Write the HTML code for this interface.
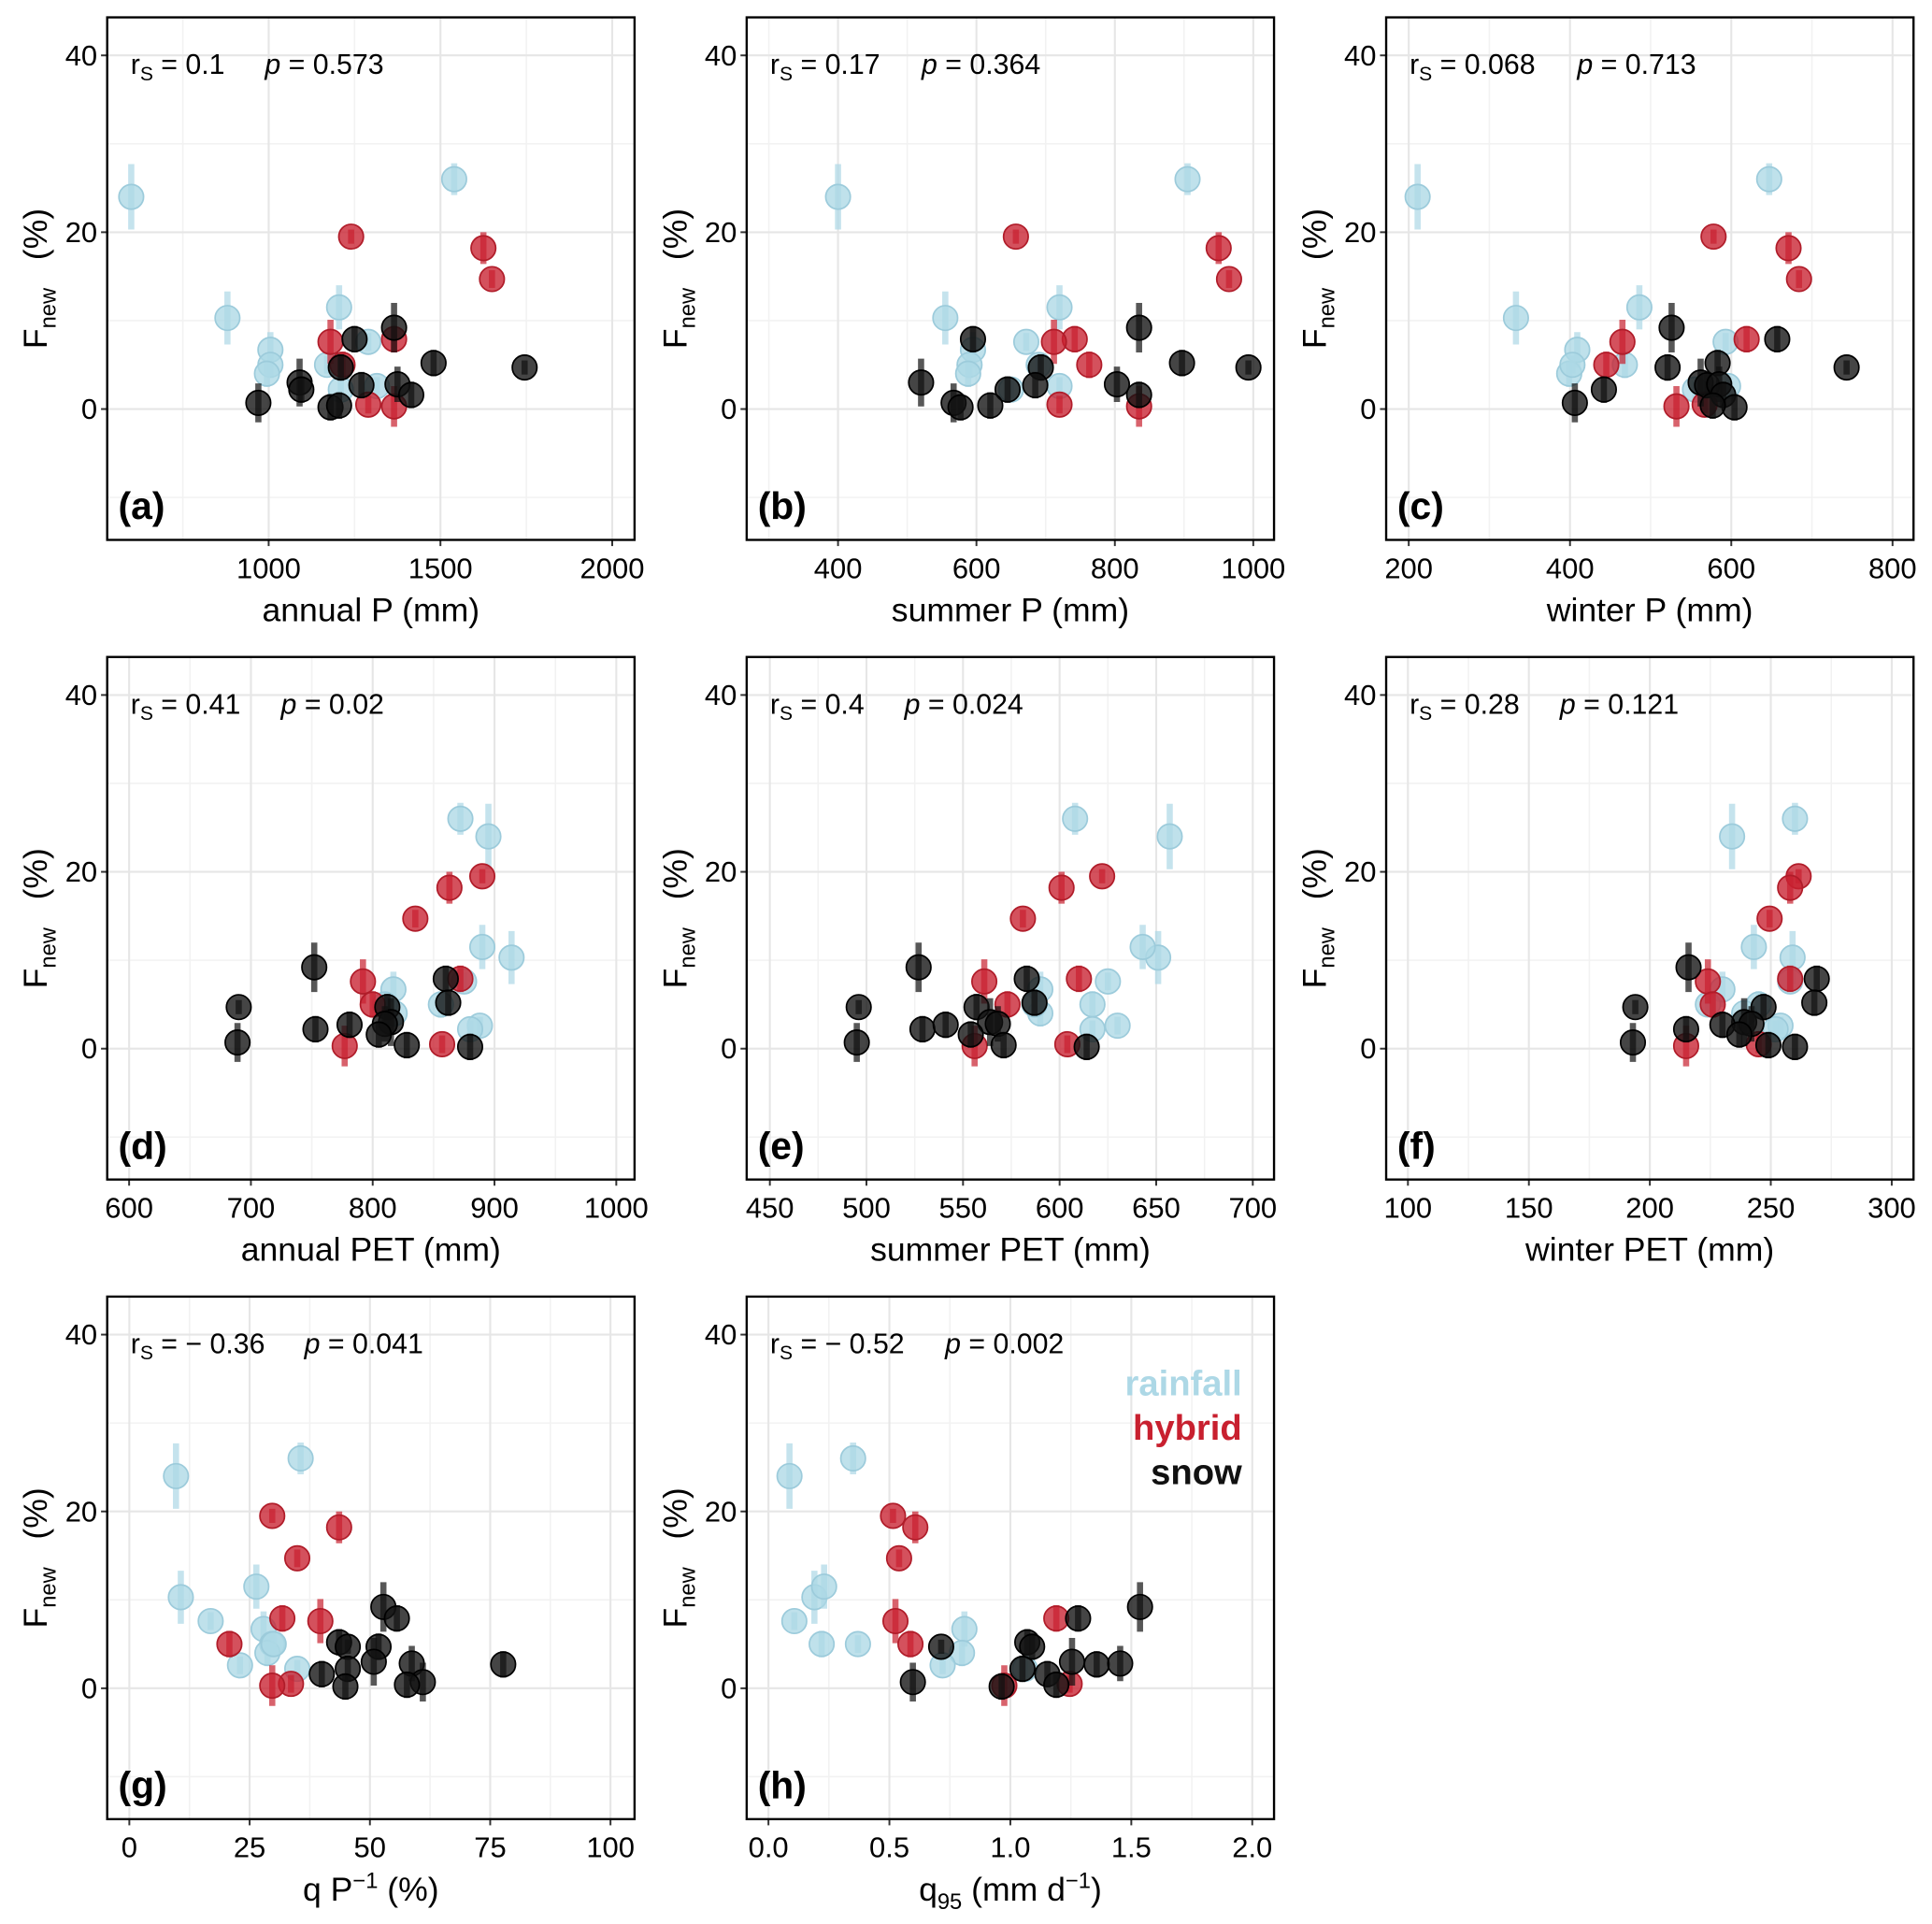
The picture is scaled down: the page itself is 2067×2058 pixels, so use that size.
<!DOCTYPE html>
<html><head><meta charset="utf-8"><style>
html,body{margin:0;padding:0;background:#fff}
svg{display:block}
text{font-family:"Liberation Sans",Arial,sans-serif;fill:#000}
</style></head><body>
<svg id="fig" width="2067" height="2058" viewBox="0 0 1568 1561" xmlns="http://www.w3.org/2000/svg"></svg>
<script>
const rainY=[24,26,10.3,11.5,6.7,5,4,5,7.6,2.6,2.2];
const rainE=[3.7,1.8,3,2.5,2,1.5,1.5,1,1,1,1];
const hybY=[19.5,18.2,14.7,7.9,7.6,5,0.5,0.3];
const hybE=[0.8,1.8,1,1.5,2.5,1.5,1,2.3];
const snowY=[9.2,7.9,5.2,4.7,4.7,3,2.2,2.7,2.8,1.6,0.7,0.2,0.4];
const snowE=[2.8,1.5,1.5,0.8,1.5,2.7,1.5,1.5,2,1.5,2.2,1.5,1.5];

const aRain=[600,1540,880,1205,1005,1005,995,1170,1290,1315,1210];
const aHyb=[1240,1625,1650,1365,1180,1215,1290,1365];
const aSnow=[1365,1250,1480,1745,1210,1090,1095,1270,1375,1415,970,1180,1205];
const bRain=[400,905,555,720,595,590,588,690,672,720,650];
const bHyb=[657,950,965,742,712,763,720,835];
const bSnow=[835,595,897,993,693,520,645,685,803,835,567,577,620];
const cRain=[211,647,333,486,409,468,399,403,593,596,555];
const cHyb=[578,671,684,619,465,445,567,532];
const cSnow=[526,657,583,743,521,562,442,570,585,590,406,604,577];
const dRain=[895,872,914,890,817,856,818,810,875,888,880];
const dHyb=[890,863,835,872,792,800,857,777];
const dSnow=[752,860,862,690,812,815,753,781,810,805,689,880,828];
const eRain=[657,608,651,643,590,617,590,587,625,630,617];
const eHyb=[622,601,581,610,561,573,604,556];
const eSnow=[527,583,587,496,557,564,529,541,568,554,495,614,571];
const fRain=[234,260,259,243,230,245,239,224,258,254,252];
const fHyb=[261.5,258,249.5,258,224,226,245,215];
const fSnow=[216,269,268,194,247,239,215,230,242,237,193,260,249];
const gRain=[9.7,35.6,10.7,26.4,27.9,29.7,28.7,30,16.9,23,34.9];
const gHyb=[29.7,43.6,34.9,31.8,39.7,20.8,33.6,29.7];
const gSnow=[52.8,55.6,43.6,45.4,51.8,50.8,45.4,77.7,58.7,40,61,44.9,57.7];
const hRain=[0.087,0.35,0.19,0.23,0.81,0.22,0.8,0.37,0.107,0.72,1.06];
const hHyb=[0.515,0.607,0.54,1.19,0.525,0.587,1.245,0.975];
const hSnow=[1.536,1.28,1.07,0.714,1.09,1.255,1.05,1.357,1.454,1.153,0.597,0.964,1.19];

const yTicks=[0,20,40];
const yMinor=[-10,10,30];
const panelLetters=['(a)','(b)','(c)','(d)','(e)','(f)','(g)','(h)'];
const rsVals=['0.1','0.17','0.068','0.41','0.4','0.28','\u2212 0.36','\u2212 0.52'];
const pVals=['0.573','0.364','0.713','0.02','0.024','0.121','0.041','0.002'];
const pOffsets=[128,142,155,141,128,141,160,161];
const xTicksList=[[1000,1500,2000],[400,600,800,1000],[200,400,600,800],[600,700,800,900,1000],[450,500,550,600,650,700],[100,150,200,250,300],[0,25,50,75,100],[0.0,0.5,1.0,1.5,2.0]];
const xLimits=[[530,2065],[268,1030],[172,826],[582,1015],[438,711],[91,309],[-4.6,105],[-0.09,2.09]];

const panels=[
 {rain:aRain,hyb:aHyb,snow:aSnow,title:'annual P (mm)',col:0,row:0,minor:[750,1250,1750],fmt:v=>v},
 {rain:bRain,hyb:bHyb,snow:bSnow,title:'summer P (mm)',col:1,row:0,minor:[300,500,700,900],fmt:v=>v},
 {rain:cRain,hyb:cHyb,snow:cSnow,title:'winter P (mm)',col:2,row:0,minor:[300,500,700],fmt:v=>v},
 {rain:dRain,hyb:dHyb,snow:dSnow,title:'annual PET (mm)',col:0,row:1,minor:[650,750,850,950],fmt:v=>v},
 {rain:eRain,hyb:eHyb,snow:eSnow,title:'summer PET (mm)',col:1,row:1,minor:[475,525,575,625,675],fmt:v=>v},
 {rain:fRain,hyb:fHyb,snow:fSnow,title:'winter PET (mm)',col:2,row:1,minor:[125,175,225,275],fmt:v=>v},
 {rain:gRain,hyb:gHyb,snow:gSnow,title:'g',col:0,row:2,minor:[12.5,37.5,62.5,87.5],fmt:v=>v},
 {rain:hRain,hyb:hHyb,snow:hSnow,title:'h',col:1,row:2,minor:[0.25,0.75,1.25,1.75],fmt:v=>v.toFixed(1)}
];

const NS='http://www.w3.org/2000/svg';
const svg=document.getElementById('fig');
function mk(tag,attrs,parent){const e=document.createElementNS(NS,tag);for(const k in attrs)e.setAttribute(k,attrs[k]);(parent||svg).appendChild(e);return e;}
const colX=[87,606,1125],rowY=[14,533,1052],W=428,H=424;
const yLo=-14.8,yHi=44.3;

panels.forEach((p,i)=>{
 const x0=colX[p.col],y0=rowY[p.row];
 const [xa,xb]=xLimits[i];
 const sx=v=>x0+(v-xa)/(xb-xa)*W;
 const sy=v=>y0+(yHi-v)/(yHi-yLo)*H;
 const g=mk('g',{});
 
 
 p.minor.forEach(v=>mk('line',{x1:sx(v),x2:sx(v),y1:y0,y2:y0+H,stroke:'#f2f2f2','stroke-width':1.2},g));
 yMinor.forEach(v=>mk('line',{x1:x0,x2:x0+W,y1:sy(v),y2:sy(v),stroke:'#f2f2f2','stroke-width':1.2},g));
 xTicksList[i].forEach(v=>mk('line',{x1:sx(v),x2:sx(v),y1:y0,y2:y0+H,stroke:'#e6e6e6','stroke-width':1.6},g));
 yTicks.forEach(v=>mk('line',{x1:x0,x2:x0+W,y1:sy(v),y2:sy(v),stroke:'#e6e6e6','stroke-width':1.6},g));
 xTicksList[i].forEach(v=>{
  mk('line',{x1:sx(v),x2:sx(v),y1:y0+H,y2:y0+H+5,stroke:'#333','stroke-width':1.5},g);
  const t=mk('text',{x:sx(v),y:y0+H+31,'text-anchor':'middle','font-size':23.5},g);t.textContent=p.fmt(v);
  
  
 });
 yTicks.forEach(v=>{
  mk('line',{x1:x0-5,x2:x0,y1:sy(v),y2:sy(v),stroke:'#333','stroke-width':1.5},g);
  const t=mk('text',{x:x0-8,y:sy(v)+8,'text-anchor':'end','font-size':23.5},g);t.textContent=v;
  
  
 });
 const series=[[p.rain,rainY,rainE,'#add8e6','#9ccbdb','rainfall'],[p.hyb,hybY,hybE,'#c8202f','#b01c29','hybrid'],[p.snow,snowY,snowE,'#111111','#000','snow']];
 series.forEach(([xs,ys,es,fill,stroke,nm])=>{
  xs.forEach((xv,k)=>{
   const cx=sx(xv),cy=sy(ys[k]);
   const bar=mk('line',{x1:cx,x2:cx,y1:sy(ys[k]+es[k]),y2:sy(ys[k]-es[k]),stroke:fill,'stroke-width':5,opacity:0.7},g);
   
   
   const c=mk('circle',{cx:cx,cy:cy,r:10,fill:fill,'fill-opacity':0.78,stroke:stroke,'stroke-width':1.3},g);
   
   
  });
 });
 mk('rect',{x:x0,y:y0,width:W,height:H,fill:'none',stroke:'#000','stroke-width':1.8},g);
 const an=mk('text',{x:x0+19,y:y0+46,'font-size':23},g);
 
 
 an.innerHTML='r<tspan font-size="16" dy="5">S</tspan><tspan dy="-5"> = '+rsVals[i]+'</tspan>';
 const pt=mk('text',{x:x0+pOffsets[i],y:y0+46,'font-size':23},g);
 
 
 pt.innerHTML='<tspan font-style="italic">p</tspan> = '+pVals[i];
 const lt=mk('text',{x:x0+9,y:y0+407,'font-size':31,'font-weight':'bold'},g);lt.textContent=panelLetters[i];
 
 
 const xt=mk('text',{x:x0+W/2,y:y0+H+66,'text-anchor':'middle','font-size':27},g);
 
 
 if(p.title==='g') xt.innerHTML='q P<tspan font-size="18" dy="-10">\u22121</tspan><tspan dy="10"> (%)</tspan>';
 else if(p.title==='h') xt.innerHTML='q<tspan font-size="18" dy="7">95</tspan><tspan dy="-7"> (mm d</tspan><tspan font-size="18" dy="-10">\u22121</tspan><tspan dy="10">)</tspan>';
 else xt.textContent=p.title;
 const yt=mk('text',{x:0,y:0,'text-anchor':'middle','font-size':27,transform:'translate('+(x0-49)+','+(y0+212)+') rotate(-90)'},g);
 
 
 yt.innerHTML='F<tspan font-size="18" dy="7">new</tspan><tspan dy="-7" xml:space="preserve">   (%)</tspan>';
});
const legItems=[['rainfall','#add8e6',1122],['hybrid','#c8202f',1158],['snow','#111',1194]];
legItems.forEach(([t,c,y])=>{
 const e=mk('text',{x:1008,y:y+10,'text-anchor':'end','font-size':29,'font-weight':'bold',fill:c});
 e.style.fill=c;
 e.textContent=t;
 
 
});
</script>
</body></html>
